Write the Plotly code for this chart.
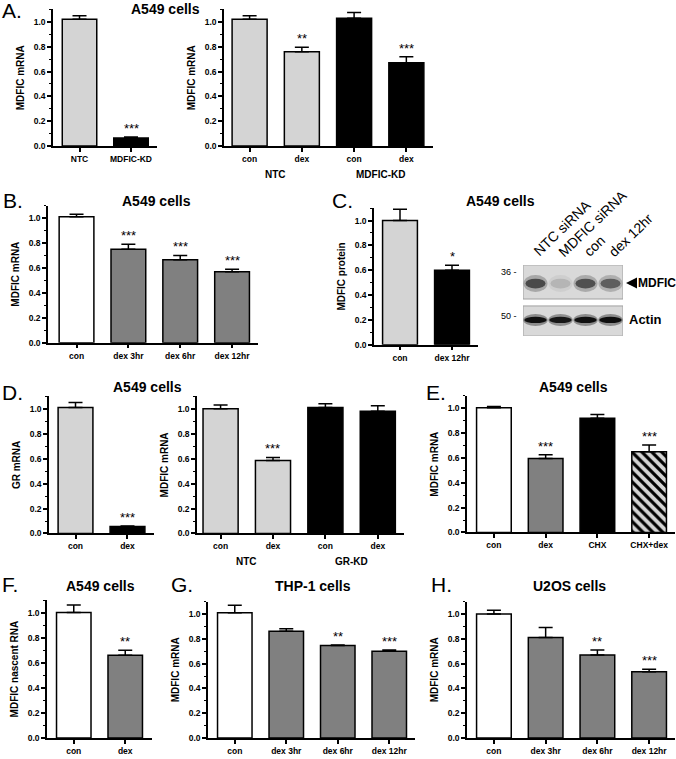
import plotly.graph_objects as go

# ---------------- data ----------------
A1_cats = ["NTC", "MDFIC-KD"]
A1_vals = [1.02, 0.065]
A1_err = [0.03, 0.008]
A1_sig = ["", "***"]

A2_cats = ["con", "dex", "con", "dex"]
A2_groups = ["NTC", "MDFIC-KD"]
A2_vals = [1.02, 0.76, 1.03, 0.67]
A2_err = [0.03, 0.035, 0.045, 0.05]
A2_sig = ["", "**", "", "***"]

B_cats = ["con", "dex 3hr", "dex 6hr", "dex 12hr"]
B_vals = [1.01, 0.75, 0.665, 0.57]
B_err = [0.02, 0.04, 0.035, 0.02]
B_sig = ["", "***", "***", "***"]

C_cats = ["con", "dex 12hr"]
C_vals = [1.0, 0.60]
C_err = [0.09, 0.04]
C_sig = ["", "*"]

D1_cats = ["con", "dex"]
D1_vals = [1.01, 0.055]
D1_err = [0.04, 0.005]
D1_sig = ["", "***"]

D2_cats = ["con", "dex", "con", "dex"]
D2_groups = ["NTC", "GR-KD"]
D2_vals = [1.0, 0.585, 1.01, 0.98]
D2_err = [0.03, 0.025, 0.03, 0.045]
D2_sig = ["", "***", "", ""]

E_cats = ["con", "dex", "CHX", "CHX+dex"]
E_vals = [1.005, 0.595, 0.92, 0.65]
E_err = [0.01, 0.03, 0.03, 0.055]
E_sig = ["", "***", "", "***"]

F_cats = ["con", "dex"]
F_vals = [1.0, 0.66]
F_err = [0.06, 0.04]
F_sig = ["", "**"]

G_cats = ["con", "dex 3hr", "dex 6hr", "dex 12hr"]
G_vals = [1.01, 0.86, 0.745, 0.70]
G_err = [0.06, 0.02, 0.005, 0.01]
G_sig = ["", "", "**", "***"]

H_cats = ["con", "dex 3hr", "dex 6hr", "dex 12hr"]
H_vals = [1.0, 0.81, 0.67, 0.535]
H_err = [0.03, 0.08, 0.04, 0.02]
H_sig = ["", "", "**", "***"]

blot_lanes = ["NTC siRNA", "MDFIC siRNA", "con", "dex 12hr"]
blot_mdfic = [0.85, 0.18, 0.80, 0.70]
blot_actin = [0.95, 0.90, 0.95, 0.97]

# ---------------- layout helpers ----------------
W, H = 676, 759
FONT = "Arial, Liberation Sans, sans-serif"
LG, BK, WH, DG = "#d4d4d4", "#000000", "#ffffff", "#808080"


def px_x(v):
    return v / W


def px_y(v):
    return 1 - v / H


panels = [
    dict(cats=A1_cats, vals=A1_vals, errs=A1_err, sigs=A1_sig, colors=[LG, BK],
         ytitle="MDFIC mRNA", xpx=(53, 157), ypx=(147, 9.5), xr=[-0.515, 1.505]),
    dict(cats=A2_cats, vals=A2_vals, errs=A2_err, sigs=A2_sig, colors=[LG, LG, BK, BK],
         ytitle="MDFIC mRNA", xpx=(224, 433), ypx=(147, 9.5), xr=[-0.49, 3.51],
         groups=A2_groups, gy=176),
    dict(cats=B_cats, vals=B_vals, errs=B_err, sigs=B_sig, colors=[WH, DG, DG, DG],
         ytitle="MDFIC mRNA", xpx=(48, 258), ypx=(345, 207), xr=[-0.55, 3.5]),
    dict(cats=C_cats, vals=C_vals, errs=C_err, sigs=C_sig, colors=[LG, BK],
         ytitle="MDFIC protein", xpx=(374, 478), ypx=(347, 209.5), xr=[-0.5, 1.5]),
    dict(cats=D1_cats, vals=D1_vals, errs=D1_err, sigs=D1_sig, colors=[LG, BK],
         ytitle="GR mRNA", xpx=(49, 154), ypx=(537, 399), xr=[-0.51, 1.51]),
    dict(cats=D2_cats, vals=D2_vals, errs=D2_err, sigs=D2_sig, colors=[LG, LG, BK, BK],
         ytitle="MDFIC mRNA", xpx=(197, 404), ypx=(537, 399), xr=[-0.45, 3.5],
         groups=D2_groups, gy=565),
    dict(cats=E_cats, vals=E_vals, errs=E_err, sigs=E_sig, colors=[WH, DG, BK, LG],
         ytitle="MDFIC mRNA", xpx=(467, 675), ypx=(536, 398.5), xr=[-0.52, 3.5],
         hatch=[False, False, False, True]),
    dict(cats=F_cats, vals=F_vals, errs=F_err, sigs=F_sig, colors=[WH, DG],
         ytitle="MDFIC nascent RNA", xpx=(47, 152), ypx=(743, 604), xr=[-0.52, 1.52]),
    dict(cats=G_cats, vals=G_vals, errs=G_err, sigs=G_sig, colors=[WH, DG, DG, DG],
         ytitle="MDFIC mRNA", xpx=(208, 415), ypx=(743, 605.5), xr=[-0.52, 3.5]),
    dict(cats=H_cats, vals=H_vals, errs=H_err, sigs=H_sig, colors=[WH, DG, DG, DG],
         ytitle="MDFIC mRNA", xpx=(467, 675), ypx=(743, 605.5), xr=[-0.52, 3.5]),
]

fig = go.Figure()
layout = dict(
    width=W, height=H, margin=dict(l=0, r=0, t=0, b=0),
    paper_bgcolor="white", plot_bgcolor="white", showlegend=False,
    font=dict(family=FONT, color="black"), barmode="overlay",
)
annotations = []
shapes = []

tick_font = dict(family=FONT, size=8.5, color="black", weight="bold")

for i, p in enumerate(panels, start=1):
    s = "" if i == 1 else str(i)
    n = len(p["cats"])
    idx = list(range(n))
    hatch = p.get("hatch", [False] * n)
    plain = [j for j in idx if not hatch[j]]
    # plain bars
    fig.add_trace(go.Bar(
        x=plain, y=[p["vals"][j] for j in plain], width=0.67,
        marker=dict(color=[p["colors"][j] for j in plain],
                    line=dict(color="black", width=1.5)),
        error_y=dict(type="data", symmetric=False,
                     array=[p["errs"][j] for j in plain],
                     arrayminus=[0] * len(plain), color="black", thickness=1.5, width=7),
        xaxis="x" + s, yaxis="y" + s, hoverinfo="skip",
    ))
    # hatched bars (scalar colour so the pattern colours are honoured)
    for j in idx:
        if hatch[j]:
            fig.add_trace(go.Bar(
                x=[j], y=[p["vals"][j]], width=0.67,
                marker=dict(color=p["colors"][j], line=dict(color="black", width=1.5),
                            pattern=dict(shape="\\", fillmode="replace", fgcolor="black",
                                         bgcolor=p["colors"][j], fgopacity=1,
                                         size=7, solidity=0.45)),
                error_y=dict(type="data", symmetric=False, array=[p["errs"][j]],
                             arrayminus=[0], color="black", thickness=1.5, width=7),
                xaxis="x" + s, yaxis="y" + s, hoverinfo="skip",
            ))
    layout["xaxis" + s] = dict(
        domain=[px_x(p["xpx"][0]), px_x(p["xpx"][1])], anchor="y" + s,
        range=p["xr"], tickmode="array", tickvals=idx, ticktext=p["cats"],
        showline=True, linewidth=1.5, linecolor="black", ticks="outside",
        ticklen=4, tickwidth=1.5, tickcolor="black", showgrid=False,
        zeroline=False, tickfont=tick_font, fixedrange=True,
    )
    layout["yaxis" + s] = dict(
        domain=[px_y(p["ypx"][0]), px_y(p["ypx"][1])], anchor="x" + s,
        range=[0, 1.1], tickmode="linear", tick0=0, dtick=0.2, tickformat=".1f",
        showline=True, linewidth=1.5, linecolor="black", ticks="outside",
        ticklen=4, tickwidth=1.5, tickcolor="black", showgrid=False,
        zeroline=False, tickfont=tick_font, fixedrange=True,
        minor=dict(dtick=0.1, ticks="outside", ticklen=2, tickwidth=1, tickcolor="black"),
        title=dict(text=p["ytitle"], standoff=7,
                   font=dict(family=FONT, size=10, color="black", weight="bold")),
    )
    for j in idx:
        if p["sigs"][j]:
            annotations.append(dict(
                x=j, y=p["vals"][j] + p["errs"][j], xref="x" + s, yref="y" + s,
                text=p["sigs"][j], showarrow=False, yanchor="bottom", yshift=-1,
                font=dict(family=FONT, size=13, color="black"),
            ))
    if "groups" in p:
        for g, name in enumerate(p["groups"]):
            annotations.append(dict(
                x=2 * g + 0.5, y=px_y(p["gy"]), xref="x" + s, yref="paper",
                text=name, showarrow=False, yanchor="middle",
                font=dict(family=FONT, size=10, color="black", weight="bold"),
            ))

# titles and panel letters
titles = [("A549 cells", 165, 9), ("A549 cells", 156, 202), ("A549 cells", 500, 202),
          ("A549 cells", 147, 390), ("A549 cells", 573, 390), ("A549 cells", 100, 590),
          ("THP-1 cells", 313, 590), ("U2OS cells", 569, 590)]
for t, x, y in titles:
    annotations.append(dict(x=px_x(x), y=px_y(y), xref="paper", yref="paper", text=t,
                            showarrow=False, xanchor="center", yanchor="middle",
                            font=dict(family=FONT, size=14, color="black", weight="bold")))
letters = [("A.", 0, 11), ("B.", 1, 202), ("C.", 330, 202), ("D.", 0, 395),
           ("E.", 424, 395), ("F.", 0, 588), ("G.", 169, 588), ("H.", 429, 588)]
for t, x, y in letters:
    annotations.append(dict(x=px_x(x), y=px_y(y), xref="paper", yref="paper", text=t,
                            showarrow=False, xanchor="left", yanchor="middle",
                            font=dict(family=FONT, size=21, color="black")))

# ---------------- western blot (axis 11) ----------------
bs = "11"
layout["xaxis" + bs] = dict(domain=[px_x(523), px_x(623)], anchor="y" + bs,
                            range=[-0.5, 3.5], visible=False, fixedrange=True)
layout["yaxis" + bs] = dict(domain=[px_y(338), px_y(267)], anchor="x" + bs,
                            range=[0, 1], visible=False, fixedrange=True)
fig.add_trace(go.Scatter(x=[0], y=[0], mode="markers", marker=dict(opacity=0),
                         xaxis="x" + bs, yaxis="y" + bs, hoverinfo="skip"))
box_top = (0.521, 1.0)
box_bot = (0.0, 0.423)
for y0, y1 in (box_top, box_bot):
    shapes.append(dict(type="rect", xref="x" + bs, yref="y" + bs, x0=-0.5, x1=3.5,
                       y0=y0, y1=y1, fillcolor="#d9d9d9", line=dict(color="#a0a0a0", width=1),
                       layer="above"))
for k, inten in enumerate(blot_mdfic):
    shapes.append(dict(type="circle", xref="x" + bs, yref="y" + bs,
                       x0=k - 0.48, x1=k + 0.48, y0=0.62, y1=0.86,
                       fillcolor=f"rgba(70,70,70,{inten * 0.4:.2f})", line=dict(width=0),
                       layer="above"))
    shapes.append(dict(type="circle", xref="x" + bs, yref="y" + bs,
                       x0=k - 0.4, x1=k + 0.4, y0=0.67, y1=0.81,
                       fillcolor=f"rgba(30,30,30,{inten * 0.8:.2f})", line=dict(width=0),
                       layer="above"))
for k, inten in enumerate(blot_actin):
    shapes.append(dict(type="circle", xref="x" + bs, yref="y" + bs,
                       x0=k - 0.49, x1=k + 0.49, y0=0.14, y1=0.31,
                       fillcolor=f"rgba(40,40,40,{inten * 0.45:.2f})", line=dict(width=0),
                       layer="above"))
    shapes.append(dict(type="circle", xref="x" + bs, yref="y" + bs,
                       x0=k - 0.45, x1=k + 0.45, y0=0.18, y1=0.27,
                       fillcolor=f"rgba(10,10,10,{inten:.2f})", line=dict(width=0),
                       layer="above"))
for k, lab in enumerate(blot_lanes):
    annotations.append(dict(x=k - 0.32, y=px_y(264), xref="x" + bs, yref="paper", text=lab,
                            showarrow=False, textangle=-44, xanchor="left", yanchor="bottom",
                            font=dict(family=FONT, size=14, color="black")))
annotations.append(dict(x=px_x(519), y=px_y(274), xref="paper", yref="paper", text="36 -",
                        showarrow=False, xanchor="right", yanchor="middle",
                        font=dict(family=FONT, size=9, color="black")))
annotations.append(dict(x=px_x(519), y=px_y(318), xref="paper", yref="paper", text="50 -",
                        showarrow=False, xanchor="right", yanchor="middle",
                        font=dict(family=FONT, size=9, color="black")))
annotations.append(dict(x=px_x(626), y=px_y(285), xref="paper", yref="paper", text="",
                        showarrow=True, ax=12, ay=0, arrowhead=2, arrowsize=1,
                        arrowwidth=2.2, arrowcolor="black"))
annotations.append(dict(x=px_x(636), y=px_y(285), xref="paper", yref="paper", text="MDFIC",
                        showarrow=False, xanchor="left", yanchor="middle",
                        font=dict(family=FONT, size=12, color="black", weight="bold")))
annotations.append(dict(x=px_x(627), y=px_y(322), xref="paper", yref="paper", text="Actin",
                        showarrow=False, xanchor="left", yanchor="middle",
                        font=dict(family=FONT, size=13, color="black", weight="bold")))

layout["annotations"] = annotations
layout["shapes"] = shapes
fig.update_layout(**layout)
fig.write_html("out.html", config={"displayModeBar": False},
               post_script="document.body.style.margin='0px';document.body.style.overflow='hidden';")
